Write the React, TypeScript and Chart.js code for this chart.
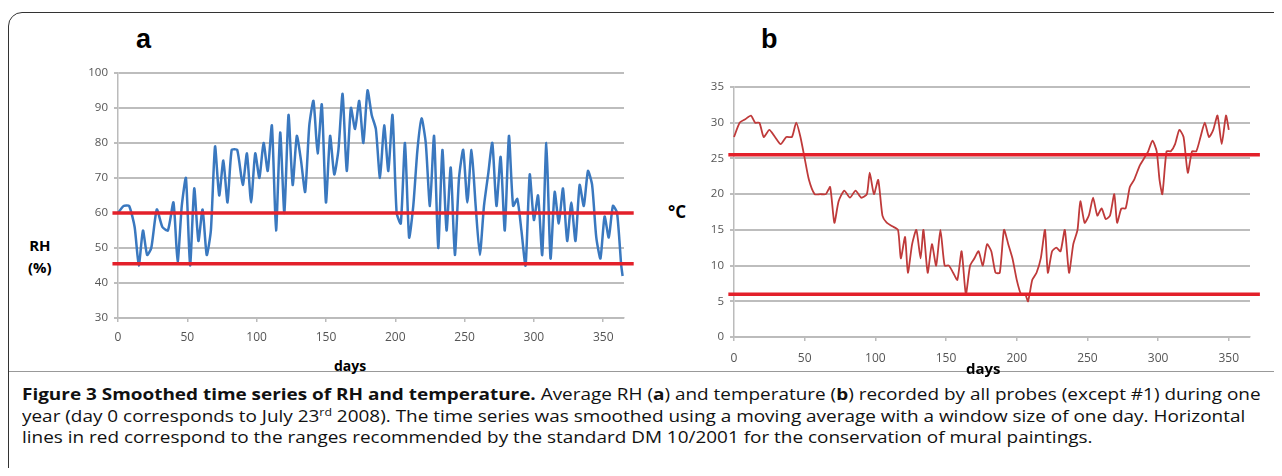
import React, { useEffect, useRef } from "react";
import { Chart, registerables } from "chart.js";
Chart.register(...registerables);

const rhDays = [0,4,8,12,15,18,21,24,28,32,36,40,43,46,49,52,55,58,61,64,67,70,73,76,79,82,86,90,93,96,99,102,105,108,111,114,117,120,123,126,129,132,135,138,141,144,147,150,153,156,159,162,165,168,171,174,177,180,183,186,189,192,195,198,201,204,207,210,213,216,219,222,225,228,231,234,237,240,243,246,249,252,255,258,261,264,267,270,273,276,279,282,285,288,291,294,297,300,303,306,309,312,315,318,321,324,327,330,333,336,339,342,345,348,351,354,357,360,363,364];
const rhValues = [60,62,62,56,45,55,48,50,61,56,55,63,46,62,70,45,67,52,61,48,55,79,65,75,63,78,78,68,77,63,77,70,80,72,85,55,83,60,88,68,82,75,66,85,92,77,91,63,82,71,78,94,72,90,84,92,80,95,88,84,70,85,72,88,60,57,80,53,62,78,87,80,62,82,50,78,55,73,48,70,78,63,78,62,48,62,71,80,62,76,55,82,62,64,55,45,71,58,65,48,80,47,66,57,67,52,63,52,68,62,72,68,53,47,59,53,62,60,45,42];
const tDays = [0,4,8,12,15,18,21,25,29,33,37,41,44,47,50,53,57,61,65,68,71,74,78,82,86,90,94,96,99,102,105,108,112,116,118,121,123,126,129,132,134,137,140,143,146,149,152,155,158,161,164,167,170,173,176,179,182,185,188,191,194,197,200,203,206,208,211,214,217,220,222,225,228,231,234,237,240,243,245,248,251,254,257,260,263,266,269,271,274,277,280,283,287,290,293,296,299,301,303,306,309,312,315,318,321,324,327,330,333,336,339,342,345,348,350];
const tValues = [28,30,30.5,31,30,30,28,29,28,27,28,28,30,28,25,22,20,20,20,21,16,19,20.5,19.5,20.5,19.5,20,23,20,22,17,16,15.5,15,11,14,9,13,15,11,15,9,13,10,15,10,10,9,8,12,6,10,11,12,10,13,12,9,9,15,13,11,8,6,6,5,8,9,11,15,9,12,12.5,12,15,9,13,15,19,16,17,19.5,17,18,16.5,17,20,16,18,18,21,22,24,25,26,27.5,26,22,20,26,26,27,29,28,23,26,26,28,30,28,29,31,27,31,29];
const rhLimits = [60, 45.5];
const tLimits = [25.5, 6];
const xTicks = [0,50,100,150,200,250,300,350];

function makeChart(canvas: HTMLCanvasElement, days: number[], vals: number[], limits: number[], color: string, yMin: number, yMax: number, yStep: number, yW: number, xH: number, padTop: number, padRight: number, lineW: number, xPad: number) {
  const pts = days.map((d, i) => ({ x: d, y: vals[i] }));
  const lim = limits.map((l) => ({
    type: "line" as const, data: [{ x: -4, y: l }, { x: 372, y: l }], borderColor: "#e3202a", borderWidth: 3.5, pointRadius: 0, order: 0,
  }));
  return new Chart(canvas, {
    type: "line",
    data: { datasets: [{ data: pts, borderColor: color, borderWidth: lineW, pointRadius: 0, tension: 0.2, order: 1 } as any, ...lim] },
    options: {
      animation: false, responsive: false, maintainAspectRatio: false,
      layout: { padding: { top: padTop, right: padRight } },
      plugins: { legend: { display: false }, tooltip: { enabled: false } },
      scales: {
        x: {
          type: "linear", min: 0, max: 365,
          afterBuildTicks: (s: any) => { s.ticks = xTicks.map((v) => ({ value: v })); },
          afterFit: (s: any) => { s.height = xH; },
          grid: { drawOnChartArea: false, color: "#bbb", tickLength: 4, lineWidth: 1.5 },
          border: { color: "#bbb", width: 1.5 },
          ticks: { color: "#555", font: { family: "Open Sans", size: 12 }, maxRotation: 0, padding: xPad },
        },
        y: {
          min: yMin, max: yMax,
          afterFit: (s: any) => { s.width = yW; },
          grid: { color: "#bdbdbd", lineWidth: 2, tickLength: 4 },
          border: { color: "#bbb", width: 1.5 },
          ticks: { stepSize: yStep, color: "#555", font: { family: "Open Sans", size: 11.5 }, padding: 6 },
        },
      },
      clip: false as any,
    },
  });
}

export default function App() {
  const a = useRef<HTMLCanvasElement>(null);
  const b = useRef<HTMLCanvasElement>(null);
  useEffect(() => {
    const c1 = makeChart(a.current!, rhDays, rhValues, rhLimits, "#3a78bf", 30, 100, 10, 48, 32, 12, 16, 2.5, 8);
    const c2 = makeChart(b.current!, tDays, tValues, tLimits, "#bf3a3a", 0, 35, 5, 44, 33, 17, 20, 1.8, 10);
    return () => { c1.destroy(); c2.destroy(); };
  }, []);
  const abs = (l: number, t: number, extra: any = {}) => ({ position: "absolute" as const, left: l, top: t, ...extra });
  return (
    <div style={{ position: "relative", width: 1282, height: 476, overflow: "hidden", margin: -8, background: "#fff" }}>
      <div style={abs(8, 12, { width: 1300, height: 500, border: "1.5px solid #333", borderTopLeftRadius: 14, boxSizing: "border-box" })} />
      <div style={abs(9, 371, { width: 1280, height: 1, background: "#999" })} />
      <canvas ref={a} width={570} height={290} style={abs(70, 60, { width: 570, height: 290 })} />
      <canvas ref={b} width={580} height={300} style={abs(690, 70, { width: 580, height: 300 })} />
      <div style={abs(136, 24, { font: "bold 27px Arial, Liberation Sans" })}>a</div>
      <div style={abs(761, 24, { font: "bold 27px Arial, Liberation Sans" })}>b</div>
      <div style={abs(28, 234, { font: "bold 15px 'Open Sans'", lineHeight: "22px", textAlign: "center" })}>RH<br />(%)</div>
      <div style={abs(668, 200, { font: "bold 17px 'Open Sans'" })}>°C</div>
      <div style={abs(334, 356, { font: "bold 14px 'Open Sans'" })}>days</div>
      <div style={abs(966, 358, { font: "bold 15px 'Open Sans'" })}>days</div>
      <div style={abs(22, 384, { font: "15.4px 'Open Sans'", lineHeight: "21.5px", color: "#111", whiteSpace: "nowrap", transform: "scaleX(1.23)", transformOrigin: "0 0" })}>
        <b>Figure 3 Smoothed time series of RH and temperature.</b> Average RH (<b>a</b>) and temperature (<b>b</b>) recorded by all probes (except #1) during one<br />
        year (day 0 corresponds to July 23<sup style={{ fontSize: 10, lineHeight: 0 }}>rd</sup> 2008). The time series was smoothed using a moving average with a window size of one day. Horizontal<br />
        lines in red correspond to the ranges recommended by the standard DM 10/2001 for the conservation of mural paintings.
      </div>
    </div>
  );
}
